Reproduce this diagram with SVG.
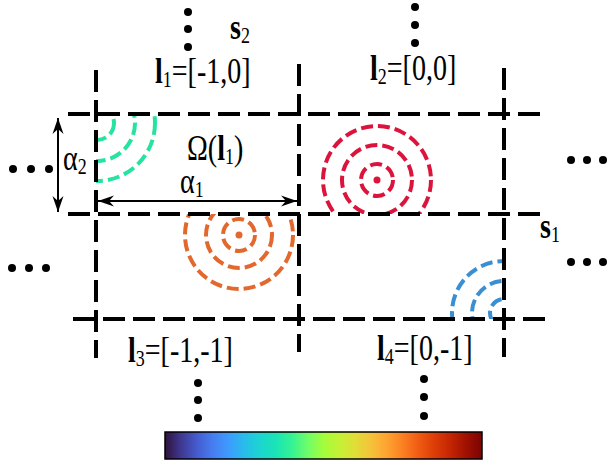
<svg xmlns="http://www.w3.org/2000/svg" width="608" height="464" viewBox="0 0 608 464">
<style>
.grid{fill:none;stroke:#000;stroke-width:4;stroke-dasharray:22 8}
.arc{fill:none;stroke-width:4;stroke-dasharray:12 5}
.t{font-family:"Liberation Serif","Times New Roman",serif;font-size:28px;fill:#000}
.b{font-weight:bold}
.sub{font-size:18px}
.dot{fill:#000}
.arr{fill:none;stroke:#000;stroke-width:2}
</style>
<defs>
<marker id="ah" viewBox="-17 -6 18 12" refX="0" refY="0" markerWidth="18" markerHeight="12" markerUnits="userSpaceOnUse" orient="auto-start-reverse">
<path d="M0,0 L-16,-5.5 L-11,0 L-16,5.5 Z" fill="#000"/>
</marker>
<clipPath id="c1"><rect x="96" y="114" width="203" height="100"/></clipPath>
<clipPath id="c2"><rect x="299" y="114" width="205" height="100"/></clipPath>
<clipPath id="c3"><rect x="96" y="214" width="203" height="105"/></clipPath>
<clipPath id="c4"><rect x="299" y="214" width="205" height="105"/></clipPath>
<linearGradient id="turbo" x1="0" y1="0" x2="1" y2="0">
<stop offset="0" stop-color="#30123b"/>
<stop offset="0.05" stop-color="#3e3891"/>
<stop offset="0.10" stop-color="#455bcd"/>
<stop offset="0.15" stop-color="#467df0"/>
<stop offset="0.20" stop-color="#3e9bfe"/>
<stop offset="0.25" stop-color="#28bceb"/>
<stop offset="0.30" stop-color="#1bd5d0"/>
<stop offset="0.35" stop-color="#1ae4b6"/>
<stop offset="0.40" stop-color="#35f393"/>
<stop offset="0.45" stop-color="#6efd6a"/>
<stop offset="0.50" stop-color="#a4fc3c"/>
<stop offset="0.55" stop-color="#c4f134"/>
<stop offset="0.60" stop-color="#e1dd37"/>
<stop offset="0.65" stop-color="#f6c23a"/>
<stop offset="0.70" stop-color="#fea331"/>
<stop offset="0.75" stop-color="#fb8022"/>
<stop offset="0.80" stop-color="#f05b12"/>
<stop offset="0.85" stop-color="#dc3d07"/>
<stop offset="0.90" stop-color="#c42503"/>
<stop offset="0.95" stop-color="#a01101"/>
<stop offset="1" stop-color="#7a0403"/>
</linearGradient>
</defs>

<g id="field-green" clip-path="url(#c1)" stroke="#27e3a0">
<circle class="arc" cx="97" cy="123" r="17"/>
<circle class="arc" cx="97" cy="123" r="38"/>
<circle class="arc" cx="97" cy="123" r="58"/>
</g>
<g id="field-red" clip-path="url(#c2)" stroke="#dc143c">
<circle cx="377" cy="180" r="3.5" fill="#dc143c" stroke="none"/>
<circle class="arc" cx="377" cy="180" r="16"/>
<circle class="arc" cx="377" cy="180" r="35"/>
<circle class="arc" cx="377" cy="180" r="54"/>
</g>
<g id="field-orange" clip-path="url(#c3)" stroke="#e2682e">
<circle cx="239" cy="235" r="3.5" fill="#e2682e" stroke="none"/>
<circle class="arc" cx="239" cy="235" r="16"/>
<circle class="arc" cx="239" cy="235" r="33"/>
<circle class="arc" cx="239" cy="235" r="54"/>
</g>
<g id="field-blue" clip-path="url(#c4)" stroke="#3a8fd2">
<circle class="arc" cx="504" cy="313" r="14"/>
<circle class="arc" cx="504" cy="313" r="32"/>
<circle class="arc" cx="504" cy="313" r="52"/>
</g>

<g id="grid">
<line class="grid" x1="68" y1="114" x2="543" y2="114"/>
<line class="grid" x1="68" y1="214" x2="547" y2="214"/>
<line class="grid" x1="73" y1="319" x2="545" y2="319"/>
<line class="grid" x1="96" y1="70" x2="96" y2="358"/>
<line class="grid" x1="299" y1="64" x2="299" y2="352"/>
<line class="grid" x1="504" y1="68" x2="504" y2="357"/>
</g>

<g id="connectors">
<line class="arr" x1="58" y1="118" x2="58" y2="212" marker-start="url(#ah)" marker-end="url(#ah)"/>
<line class="arr" x1="98" y1="201" x2="297" y2="201" marker-start="url(#ah)" marker-end="url(#ah)"/>
</g>

<g id="dots">
<circle class="dot" cx="188" cy="12" r="4"/><circle class="dot" cx="188" cy="29" r="4"/><circle class="dot" cx="188" cy="47" r="4"/>
<circle class="dot" cx="415" cy="7" r="4"/><circle class="dot" cx="415" cy="25" r="4"/><circle class="dot" cx="415" cy="43" r="4"/>
<circle class="dot" cx="198" cy="383" r="4"/><circle class="dot" cx="198" cy="400" r="4"/><circle class="dot" cx="198" cy="418" r="4"/>
<circle class="dot" cx="424" cy="379" r="4"/><circle class="dot" cx="424" cy="397" r="4"/><circle class="dot" cx="424" cy="416" r="4"/>
<circle class="dot" cx="13" cy="169" r="4"/><circle class="dot" cx="31" cy="169" r="4"/><circle class="dot" cx="49" cy="169" r="4"/>
<circle class="dot" cx="12" cy="268" r="4"/><circle class="dot" cx="29" cy="268" r="4"/><circle class="dot" cx="46" cy="268" r="4"/>
<circle class="dot" cx="571" cy="160" r="4"/><circle class="dot" cx="587" cy="160" r="4"/><circle class="dot" cx="603" cy="160" r="4"/>
<circle class="dot" cx="571" cy="262" r="4"/><circle class="dot" cx="587" cy="262" r="4"/><circle class="dot" cx="603" cy="262" r="4"/>
</g>

<g id="labels">
<text class="t" transform="translate(155,83) scale(1,1.25)"><tspan class="b">l</tspan><tspan class="sub" dy="3">1</tspan><tspan dy="-3">=[-1,0]</tspan></text>
<text class="t" transform="translate(370,80) scale(1,1.25)"><tspan class="b">l</tspan><tspan class="sub" dy="3">2</tspan><tspan dy="-3">=[0,0]</tspan></text>
<text class="t" transform="translate(128,362) scale(1,1.25)"><tspan class="b">l</tspan><tspan class="sub" dy="3">3</tspan><tspan dy="-3">=[-1,-1]</tspan></text>
<text class="t" transform="translate(377,360) scale(1,1.25)"><tspan class="b">l</tspan><tspan class="sub" dy="3">4</tspan><tspan dy="-3">=[0,-1]</tspan></text>
<text class="t" transform="translate(230,39) scale(1,1.25)"><tspan class="b">s</tspan><tspan class="sub" dy="3">2</tspan></text>
<text class="t" transform="translate(540,238) scale(1,1.25)"><tspan class="b">s</tspan><tspan class="sub" dy="3">1</tspan></text>
<text class="t" transform="translate(187,160) scale(1,1.25)">Ω(<tspan class="b">l</tspan><tspan class="sub" dy="3">1</tspan><tspan dy="-3">)</tspan></text>
<text class="t" transform="translate(180,193) scale(1,1.25)">α<tspan class="sub" dy="3">1</tspan></text>
<text class="t" transform="translate(63,170) scale(1,1.25)">α<tspan class="sub" dy="3">2</tspan></text>
</g>

<g id="colorbar">
<rect x="165" y="432" width="317" height="27" fill="url(#turbo)" stroke="#000" stroke-width="1.5"/>
</g>
</svg>
